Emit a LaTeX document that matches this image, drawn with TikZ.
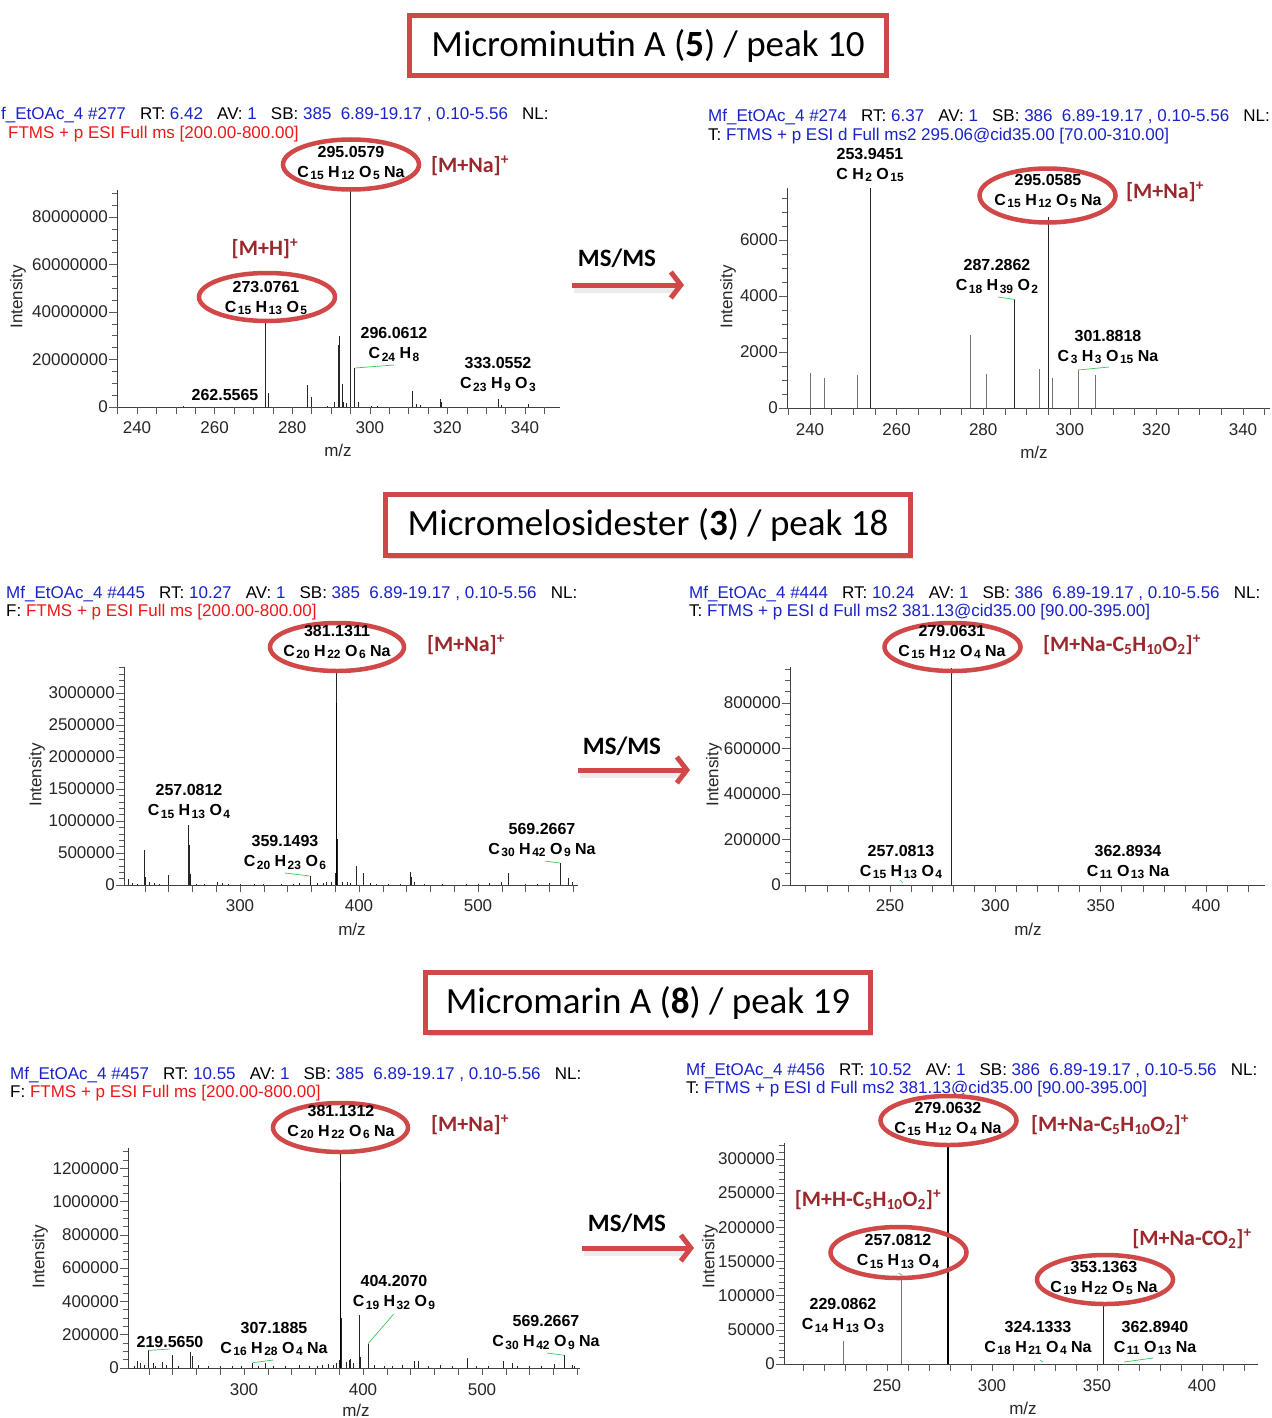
\documentclass[tikz,border=0pt]{standalone}
\usepackage{fontspec}
\setmainfont{Liberation Sans}
\newfontfamily\calfont{Carlito}
\usetikzlibrary{arrows.meta,shadows}
\definecolor{ovalred}{RGB}{208,72,72}
\definecolor{annred}{RGB}{155,40,45}
\definecolor{hblue}{RGB}{25,35,200}
\definecolor{hred}{RGB}{235,25,25}
\definecolor{leadgreen}{RGB}{60,200,90}
\newcommand\sbs[1]{\hspace{1.5pt}\raisebox{-2.5pt}{\fontsize{12}{12}\selectfont #1}}
\newcommand\gap{\hspace{0.83em}}
\newcommand\hdrA[3]{{\color{hblue}#1}\gap RT: {\color{hblue}#2}\gap AV: {\color{hblue}1}\gap SB: {\color{hblue}#3\hspace{0.55em}6.89-19.17 , 0.10-5.56}\gap NL:}
\tikzset{
 peak/.style={line width=0.9pt, black!85},
 gpeak/.style={line width=0.8pt, black!55},
 thickpk/.style={line width=1.7pt, black},
 axisline/.style={line width=0.8pt, black!75},
 tk/.style={line width=0.6pt, black!65},
 ylab/.style={anchor=east, font=\fontsize{17}{17}\selectfont, inner sep=0pt, text=black!85},
 xlab/.style={anchor=center, font=\fontsize{17}{17}\selectfont, inner sep=0pt, text=black!85},
 axtitle/.style={font=\fontsize{17}{17}\selectfont, inner sep=0pt, text=black!85},
 plab/.style={align=center, font=\bfseries\fontsize{16}{20}\selectfont, inner sep=0pt},
 oval/.style={draw=ovalred, line width=4.5pt},
 ann/.style={font=\calfont\bfseries\fontsize{22}{22}\selectfont, text=annred, inner sep=0pt},
 hdr/.style={anchor=west, font=\fontsize{17}{17}\selectfont, inner sep=0pt},
 titlebox/.style={draw=ovalred, line width=5pt, fill=white, font=\calfont\fontsize{37}{37}\selectfont,
   drop shadow={opacity=0.3,shadow xshift=2pt,shadow yshift=-3pt}, inner sep=0pt},
 mstext/.style={font=\calfont\bfseries\fontsize{25}{25}\selectfont, inner sep=0pt},
 msarrow/.style={draw=ovalred, line width=5pt, -{Straight Barb[length=10pt,width=26pt]}},
 msshadow/.style={draw=black!12, line width=7pt, opacity=0.6},
 leader/.style={leadgreen, line width=0.7pt},
}
\begin{document}
\begin{tikzpicture}[x=1pt,y=-1pt]
\useasboundingbox (0,0) rectangle (1271,1418);
\fill[white] (0,0) rectangle (1271,1418);

% ---------------- titles ----------------
\node[titlebox, minimum width=477pt, minimum height=60pt] (t1) at (648,45.5) {Microminutin A (\textbf{5}) / peak 10};
\node[titlebox, minimum width=525pt, minimum height=61pt] (t2) at (648,525) {Micromelosidester (\textbf{3}) / peak 18};
\node[titlebox, minimum width=445pt, minimum height=60pt] (t3) at (648,1002.5) {Micromarin A (\textbf{8}) / peak 19};

% ---------------- MS/MS arrows ----------------
\node[mstext] (ms1) at (617,258) {MS/MS};
\node[mstext] (ms2) at (622,746) {MS/MS};
\node[mstext] (ms3) at (627,1223) {MS/MS};
\coordinate (a1s) at (572,285); \coordinate (a1e) at (684,285);
\coordinate (a2s) at (578,770); \coordinate (a2e) at (690,770);
\coordinate (a3s) at (582,1248); \coordinate (a3e) at (694,1248);
\draw[msshadow] ([shift={(2pt,-4pt)}]a1s) -- ([shift={(-6pt,-4pt)}]a1e);
\draw[msshadow] ([shift={(2pt,-4pt)}]a2s) -- ([shift={(-6pt,-4pt)}]a2e);
\draw[msshadow] ([shift={(2pt,-4pt)}]a3s) -- ([shift={(-6pt,-4pt)}]a3e);
\draw[msarrow] (a1s) -- (a1e);
\draw[msarrow] (a2s) -- (a2e);
\draw[msarrow] (a3s) -- (a3e);

% ================= Spectrum 1 (top left) =================
\node[hdr] (h1a) at (1,115) {\hdrA{f\_EtOAc\_4 \#277}{6.42}{385}};
\node[hdr] (h1b) at (8,134) {{\color{hred}FTMS + p ESI Full ms [200.00-800.00]}};
\begin{scope}[shift={(-794.2pt,-407pt)},x=3.88pt,y=2.375pt]
 \draw[axisline] (234.85,91.4) -- (234.85,0) -- (349,0);
 \foreach \i in {0,5,...,90} \draw[tk] (234.85,\i) -- ++(-5pt,0pt);
 \foreach \i/\t in {0/0,20/20000000,40/40000000,60/60000000,80/80000000}
   {\draw[tk] (234.85,\i) -- ++(-8pt,0pt); \node[ylab,xshift=-9pt] (s1y\i) at (234.85,\i) {\t};}
 \foreach \m in {235,240,...,345} \draw[tk] (\m,0) -- ++(0pt,-7pt);
 \foreach \m in {240,260,...,340} \node[xlab,yshift=-21pt] (s1x\m) at (\m,0) {\m};
 \foreach \m/\h in {274.0/5.9,284.0/9.3,285.0/4.2,291.0/2.1,292.0/26,292.2/30,293.0/9.7,293.3/2,294/1.5,296.06/16.4,297.1/2,311.0/6.7,312.0/1.2,313/0.8,318.1/3.4,318.4/2,333.05/3.4,334/1,341/1.3,300.5/0.6,302/0.5,252/0.3,289/0.5}
   \draw[peak] (\m,0) -- (\m,\h);
 \draw[peak] (273.08,0) -- (273.08,35.5);
 \draw[peak] (295.06,0) -- (295.06,92.5);
\end{scope}
\draw[leader] (355,368) -- (394,365);
\node[axtitle,rotate=90] (s1it) at (18,297) {Intensity};
\node[axtitle] (s1mz) at (338,450) {m/z};
\draw[oval] (351,164.5) ellipse [x radius=68pt, y radius=25pt];
\draw[oval] (267,297) ellipse [x radius=68pt, y radius=24pt];
\node[plab] (s1p1) at (351,163) {295.0579\\C\sbs{15} H\sbs{12} O\sbs{5} Na};
\node[plab] (s1p2) at (266,298) {273.0761\\C\sbs{15} H\sbs{13} O\sbs{5}};
\node[plab] (s1p3) at (394,344.5) {296.0612\\C\sbs{24} H\sbs{8}};
\node[plab] (s1p4) at (498,374.5) {333.0552\\C\sbs{23} H\sbs{9} O\sbs{3}};
\node[plab] (s1p5) at (225,395) {262.5565};
\node[ann] (s1a1) at (470,166) {[M+Na]\textsuperscript{+}};
\node[ann] (s1a2) at (265,249) {[M+H]\textsuperscript{+}};

% ================= Spectrum 2 (top right) =================
\node[hdr] (h2a) at (708,117) {\hdrA{Mf\_EtOAc\_4 \#274}{6.37}{386}};
\node[hdr] (h2b) at (708,136) {T: {\color{hblue}FTMS + p ESI d Full ms2 295.06@cid35.00 [70.00-310.00]}};
\begin{scope}[shift={(-229.2pt,-408pt)},x=4.33pt,y=28pt]
 \draw[axisline] (234.7,7.86) -- (234.7,0) -- (346.2,0);
 \foreach \i in {0,0.5,...,7.5} \draw[tk] (234.7,\i) -- ++(-5pt,0pt);
 \foreach \i/\t in {0/0,2/2000,4/4000,6/6000}
   {\draw[tk] (234.7,\i) -- ++(-8pt,0pt); \node[ylab,xshift=-9pt] (s2y\i) at (234.7,\i) {\t};}
 \foreach \m in {235,240,...,345} \draw[tk] (\m,0) -- ++(0pt,-7pt);
 \foreach \m in {240,260,...,340} \node[xlab,yshift=-22pt] (s2x\m) at (\m,0) {\m};
 \foreach \m/\h in {240.0/1.247,243.4/1.06,251.0/1.18,277.0/2.62,280.7/1.21,293.0/1.39,295.9/1.07,301.88/1.35,306.0/1.18}
   \draw[gpeak] (\m,0) -- (\m,\h);
 \draw[peak] (253.95,0) -- (253.95,7.86);
 \draw[peak] (287.29,0) -- (287.29,3.88);
 \draw[peak] (295.06,0) -- (295.06,6.82);
\end{scope}
\draw[leader] (998,297) -- (1015,299.5);
\draw[leader] (1078,370) -- (1109,367);
\node[axtitle,rotate=90] (s2it) at (728,297) {Intensity};
\node[axtitle] (s2mz) at (1034,452) {m/z};
\draw[oval] (1047.5,195.5) ellipse [x radius=68pt, y radius=27pt];
\node[plab] (s2p1) at (870,165) {253.9451\\C H\sbs{2} O\sbs{15}};
\node[plab] (s2p2) at (1048,191) {295.0585\\C\sbs{15} H\sbs{12} O\sbs{5} Na};
\node[plab] (s2p3) at (997,276.5) {287.2862\\C\sbs{18} H\sbs{39} O\sbs{2}};
\node[plab] (s2p4) at (1108,347) {301.8818\\C\sbs{3} H\sbs{3} O\sbs{15} Na};
\node[ann] (s2a1) at (1165,192) {[M+Na]\textsuperscript{+}};

% ================= Spectrum 3 (middle left) =================
\node[hdr] (h3a) at (6,594) {\hdrA{Mf\_EtOAc\_4 \#445}{10.27}{385}};
\node[hdr] (h3b) at (6,612) {F: {\color{hred}FTMS + p ESI Full ms [200.00-800.00]}};
\begin{scope}[shift={(-117pt,-885pt)},x=1.19pt,y=6.4pt]
 \draw[axisline] (202.5,34.06) -- (202.5,0) -- (584,0);
 \foreach \i in {0,1,...,34} \draw[tk] (202.5,\i) -- ++(-5pt,0pt);
 \foreach \i/\t in {0/0,5/500000,10/1000000,15/1500000,20/2000000,25/2500000,30/3000000}
   {\draw[tk] (202.5,\i) -- ++(-8pt,0pt); \node[ylab,xshift=-9pt] (s3y\i) at (202.5,\i) {\t};}
 \foreach \m in {220,240,...,580} \draw[tk] (\m,0) -- ++(0pt,-7pt);
 \foreach \m in {300,400,500} \node[xlab,yshift=-21pt] (s3x\m) at (\m,0) {\m};
 \foreach \m/\h in {206.3/0.9,219.7/5.5,220.2/1.3,224/0.5,240/1.6,257.4/6.3,258/1.7,281/0.5,359.15/1.4,373/0.5,376.8/0.5,380/1.8,382.1/7.2,397.5/2.9,404/1.8,442.9/2.1,444.4/1.2,447/0.5,525.4/1.8,569.27/3.5,575.6/1.1,579.4/0.5,
   210/0.3,214/0.2,228/0.3,232/0.2,263/0.2,270/0.2,285/0.3,290/0.2,300/0.2,312/0.2,320/0.2,335/0.2,345/0.2,350/0.3,365/0.3,370/0.3,386/0.4,390/0.4,393/0.3,410/0.3,415/0.2,425/0.2,435/0.2,455/0.2,470/0.2,490/0.2,500/0.2,510/0.3,520/0.5,540/0.2,550/0.2,560/0.3}
   \draw[peak] (\m,0) -- (\m,\h);
 \draw[peak] (257.08,0) -- (257.08,9.3);
 \draw[peak] (381.13,0) -- (381.13,33.3);
 \draw[thickpk] (381.13,0) -- (381.13,28.4);
\end{scope}
\draw[leader] (285,873) -- (310,876);
\draw[leader] (545,861) -- (560,863);
\node[axtitle,rotate=90] (s3it) at (37,775) {Intensity};
\node[axtitle] (s3mz) at (352,929) {m/z};
\draw[oval] (337,647) ellipse [x radius=67pt, y radius=24pt];
\node[plab] (s3p1) at (337,642) {381.1311\\C\sbs{20} H\sbs{22} O\sbs{6} Na};
\node[plab] (s3p2) at (189,801.5) {257.0812\\C\sbs{15} H\sbs{13} O\sbs{4}};
\node[plab] (s3p3) at (285,852.5) {359.1493\\C\sbs{20} H\sbs{23} O\sbs{6}};
\node[plab] (s3p4) at (542,840) {569.2667\\C\sbs{30} H\sbs{42} O\sbs{9} Na};
\node[ann] (s3a1) at (466,645) {[M+Na]\textsuperscript{+}};

% ================= Spectrum 4 (middle right) =================
\node[hdr] (h4a) at (689,594) {\hdrA{Mf\_EtOAc\_4 \#444}{10.24}{386}};
\node[hdr] (h4b) at (689,612) {T: {\color{hblue}FTMS + p ESI d Full ms2 381.13@cid35.00 [90.00-395.00]}};
\begin{scope}[shift={(363.25pt,-885pt)},x=2.107pt,y=22.75pt]
 \draw[axisline] (202.5,9.58) -- (202.5,0) -- (428,0);
 \foreach \i in {0,0.5,...,9.5} \draw[tk] (202.5,\i) -- ++(-5pt,0pt);
 \foreach \i/\t in {0/0,2/200000,4/400000,6/600000,8/800000}
   {\draw[tk] (202.5,\i) -- ++(-8pt,0pt); \node[ylab,xshift=-9pt] (s4y\i) at (202.5,\i) {\t};}
 \foreach \m in {210,220,...,420} \draw[tk] (\m,0) -- ++(0pt,-7pt);
 \foreach \m in {250,300,350,400} \node[xlab,yshift=-21pt] (s4x\m) at (\m,0) {\m};
 \draw[peak] (279.06,0) -- (279.06,9.55);
\end{scope}
\draw[leader] (900,880) -- (903,883);
\node[axtitle,rotate=90] (s4it) at (714,775) {Intensity};
\node[axtitle] (s4mz) at (1028,929) {m/z};
\draw[oval] (952.5,647) ellipse [x radius=68pt, y radius=24pt];
\node[plab] (s4p1) at (952,642) {279.0631\\C\sbs{15} H\sbs{12} O\sbs{4} Na};
\node[plab] (s4p2) at (901,862) {257.0813\\C\sbs{15} H\sbs{13} O\sbs{4}};
\node[plab] (s4p3) at (1128,862) {362.8934\\C\sbs{11} O\sbs{13} Na};
\node[ann] (s4a1) at (1122,645) {[M+Na-C\textsubscript{5}H\textsubscript{10}O\textsubscript{2}]\textsuperscript{+}};

% ================= Spectrum 5 (bottom left) =================
\node[hdr] (h5a) at (10,1075) {\hdrA{Mf\_EtOAc\_4 \#457}{10.55}{385}};
\node[hdr] (h5b) at (10,1093) {F: {\color{hred}FTMS + p ESI Full ms [200.00-800.00]}};
\begin{scope}[shift={(-113pt,-1368pt)},x=1.19pt,y=16.65pt]
 \draw[axisline] (202.5,13.2) -- (202.5,0) -- (582.4,0);
 \foreach \i in {0,0.5,...,13} \draw[tk] (202.5,\i) -- ++(-5pt,0pt);
 \foreach \i/\t in {0/0,2/200000,4/400000,6/600000,8/800000,10/1000000,12/1200000}
   {\draw[tk] (202.5,\i) -- ++(-8pt,0pt); \node[ylab,xshift=-9pt] (s5y\i) at (202.5,\i) {\t};}
 \foreach \m in {220,240,...,580} \draw[tk] (\m,0) -- ++(0pt,-7pt);
 \foreach \m in {300,400,500} \node[xlab,yshift=-22pt] (s5x\m) at (\m,0) {\m};
 \foreach \m/\h in {210.3/0.4,212.9/0.3,219.57/1.06,223.5/0.3,231.6/0.36,239.7/0.76,255.2/0.96,257/0.7,307.19/0.32,318.4/0.3,346.8/0.2,371/0.26,377.4/0.3,380.3/0.46,382.1/3.0,386.5/0.36,388.7/0.5,389.7/0.56,396.8/3.16,398/0.66,404.2/1.46,443.5/0.4,447/0.4,487.7/0.62,517.7/0.4,525.8/0.32,561/0.26,569.27/0.76,576/0.2,
   208/0.15,216/0.2,226/0.15,235/0.2,245/0.15,262/0.2,270/0.1,280/0.12,290/0.15,298/0.1,312/0.12,325/0.15,335/0.1,355/0.15,362/0.12,366/0.2,375/0.2,392/0.3,410/0.2,418/0.15,425/0.12,433/0.2,455/0.15,465/0.2,475/0.12,495/0.15,505/0.15,530/0.15,540/0.1,550/0.12,578/0.15}
   \draw[peak] (\m,0) -- (\m,\h);
 \draw[peak] (381.13,0) -- (381.13,12.97);
 \draw[thickpk] (381.13,0) -- (381.13,11.16);
\end{scope}
\draw[leader] (148.3,1350.4) -- (170,1349);
\draw[leader] (252.6,1362.7) -- (273.5,1360);
\draw[leader] (368,1343.7) -- (393.7,1314);
\draw[leader] (547,1353) -- (564.4,1355.3);
\node[axtitle,rotate=90] (s5it) at (40,1257) {Intensity};
\node[axtitle] (s5mz) at (356,1410) {m/z};
\draw[oval] (340.5,1127.5) ellipse [x radius=67.5pt, y radius=24.5pt];
\node[plab] (s5p1) at (341,1122) {381.1312\\C\sbs{20} H\sbs{22} O\sbs{6} Na};
\node[plab] (s5p2) at (394,1292.5) {404.2070\\C\sbs{19} H\sbs{32} O\sbs{9}};
\node[plab] (s5p3) at (170,1342) {219.5650};
\node[plab] (s5p4) at (274,1339) {307.1885\\C\sbs{16} H\sbs{28} O\sbs{4} Na};
\node[plab] (s5p5) at (546,1332.5) {569.2667\\C\sbs{30} H\sbs{42} O\sbs{9} Na};
\node[ann] (s5a1) at (470,1125) {[M+Na]\textsuperscript{+}};

% ================= Spectrum 6 (bottom right) =================
\node[hdr] (h6a) at (686,1071) {\hdrA{Mf\_EtOAc\_4 \#456}{10.52}{386}};
\node[hdr] (h6b) at (686,1089) {T: {\color{hblue}FTMS + p ESI d Full ms2 381.13@cid35.00 [90.00-395.00]}};
\begin{scope}[shift={(362pt,-1364pt)},x=2.1pt,y=6.84pt]
 \draw[axisline] (201,32.3) -- (201,0) -- (426.7,0);
 \foreach \i in {0,1,...,32} \draw[tk] (201,\i) -- ++(-5pt,0pt);
 \foreach \i/\t in {0/0,5/50000,10/100000,15/150000,20/200000,25/250000,30/300000}
   {\draw[tk] (201,\i) -- ++(-8pt,0pt); \node[ylab,xshift=-9pt] (s6y\i) at (201,\i) {\t};}
 \foreach \m in {210,220,...,420} \draw[tk] (\m,0) -- ++(0pt,-7pt);
 \foreach \m in {250,300,350,400} \node[xlab,yshift=-22pt] (s6x\m) at (\m,0) {\m};
 \draw[gpeak] (229.09,0) -- (229.09,3.43);
 \draw[gpeak] (257.08,0) -- (257.08,12.9);
 \draw[thickpk] (279.06,0) -- (279.06,31.86);
 \draw[peak] (353.14,0) -- (353.14,9.07);
\end{scope}
\draw[leader] (1124,1362) -- (1153,1358);
\draw[leader] (1040,1360) -- (1043,1362);
\draw[leader] (898.6,1273) -- (902,1275);
\node[axtitle,rotate=90] (s6it) at (710,1257) {Intensity};
\node[axtitle] (s6mz) at (1023,1408) {m/z};
\draw[oval] (948.5,1120.5) ellipse [x radius=68pt, y radius=24.5pt];
\draw[oval] (898.5,1252.5) ellipse [x radius=68pt, y radius=25.5pt];
\draw[oval] (1105,1279.5) ellipse [x radius=68pt, y radius=24.5pt];
\node[plab] (s6p1) at (948,1119) {279.0632\\C\sbs{15} H\sbs{12} O\sbs{4} Na};
\node[plab] (s6p2) at (898,1251.5) {257.0812\\C\sbs{15} H\sbs{13} O\sbs{4}};
\node[plab] (s6p3) at (1104,1278) {353.1363\\C\sbs{19} H\sbs{22} O\sbs{5} Na};
\node[plab] (s6p4) at (843,1315.5) {229.0862\\C\sbs{14} H\sbs{13} O\sbs{3}};
\node[plab] (s6p5) at (1038,1338) {324.1333\\C\sbs{18} H\sbs{21} O\sbs{4} Na};
\node[plab] (s6p6) at (1155,1338) {362.8940\\C\sbs{11} O\sbs{13} Na};
\node[ann] (s6a1) at (1110,1125) {[M+Na-C\textsubscript{5}H\textsubscript{10}O\textsubscript{2}]\textsuperscript{+}};
\node[ann] (s6a2) at (868,1200) {[M+H-C\textsubscript{5}H\textsubscript{10}O\textsubscript{2}]\textsuperscript{+}};
\node[ann] (s6a3) at (1192,1239) {[M+Na-CO\textsubscript{2}]\textsuperscript{+}};
\end{tikzpicture}
\end{document}
